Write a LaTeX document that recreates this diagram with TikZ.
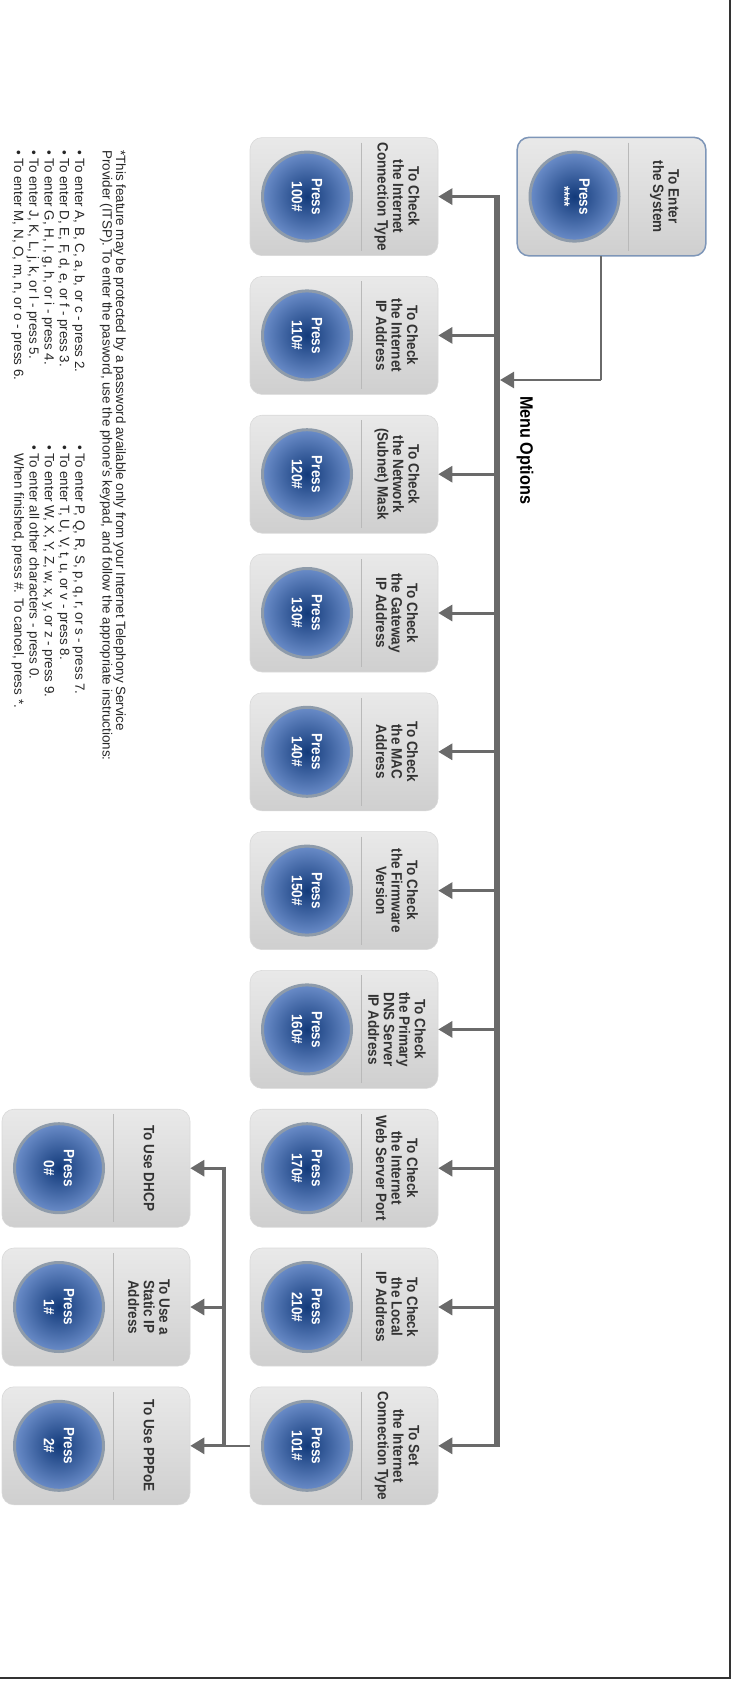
\documentclass[tikz,border=0pt]{standalone}
\usepackage{fontspec}
\setmainfont{Liberation Sans}
\newfontfamily\narrowfont[FakeStretch=0.9]{Liberation Sans}
\usetikzlibrary{arrows.meta}
\definecolor{linegray}{HTML}{6A6A6A}
\definecolor{boxlight}{HTML}{E9E9E9}
\definecolor{boxdark}{HTML}{CFCFCF}
\definecolor{btninner}{HTML}{123A7A}
\definecolor{btnouter}{HTML}{6A8CC8}
\definecolor{btnring}{HTML}{8E9BAA}
\definecolor{labelgray}{HTML}{333333}
\definecolor{enteredge}{HTML}{7E96B8}
% one option box: name, centre, label, key
\def\menubox[#1](#2,#3)#4#5{%
  \node[optbox] (#1) at (#2,#3) {};
  \draw[divline] ({#2-54},{#3+17}) -- ({#2+54},{#3+17});
  \node[pressbtn] (#1b) at (#2,{#3-37}) {Press\\#5};
  \node[optlabel] (#1t) at (#2,{#3+53}) {#4};
}

\begin{document}
\begin{tikzpicture}[x=1pt,y=1pt,rotate=-90,transform shape,
  optbox/.style={rounded corners=12pt,minimum width=118pt,minimum height=188pt,inner sep=0pt,
    top color=boxlight,bottom color=boxdark,draw=gray!30,line width=0.6pt},
  divline/.style={draw=gray!55,line width=1pt},
  pressbtn/.style={circle,minimum size=89pt,inner sep=0pt,draw=btnring,line width=3pt,
    inner color=btninner,outer color=btnouter,text=white,align=center,
    font=\narrowfont\bfseries\fontsize{15}{20}\selectfont},
  optlabel/.style={text=labelgray,align=center,inner sep=0pt,
    font=\narrowfont\bfseries\fontsize{15}{15.5}\selectfont},
  trunk/.style={draw=linegray,line width=6pt},
  subtrunk/.style={draw=linegray,line width=4.5pt},
  feed/.style={draw=linegray,line width=2.5pt},
  branch/.style={draw=linegray,line width=3pt,-{Triangle[length=14pt,width=16pt]}},
  feedarrow/.style={draw=linegray,line width=2.5pt,-{Triangle[length=14pt,width=16pt]}},
  menuhead/.style={font=\narrowfont\bfseries\fontsize{18}{20}\selectfont,inner sep=0pt},
  notetext/.style={align=left,inner sep=0pt,text=black!85,font=\fontsize{13.4}{13.5}\selectfont},
  keylist/.style={align=left,inner sep=0pt,text=black!85,font=\fontsize{13.4}{15.25}\selectfont},
  framerule/.style={draw=black!80,line width=2.5pt}]

  %%%%% START %%%%%
  \useasboundingbox (0,0) rectangle (1686,732);
  \draw[framerule] (0,730) -- (1678,730) -- (1678,0);

  % entry box
  \menubox[enter](196.6,611.5){To Enter\\the System}{****}
  \draw[enteredge,line width=1.5pt,rounded corners=12pt] (enter.south west) rectangle (enter.north east);

  % main column
  \menubox[chk100](196.6,344){To Check\\the Internet\\Connection Type}{100\#}
  \menubox[chk110](335.4,344){To Check\\the Internet\\IP Address}{110\#}
  \menubox[chk120](474.2,344){To Check\\the Network\\(Subnet) Mask}{120\#}
  \menubox[chk130](613.0,344){To Check\\the Gateway\\IP Address}{130\#}
  \menubox[chk140](751.8,344){To Check\\the MAC\\Address}{140\#}
  \menubox[chk150](890.6,344){To Check\\the Firmware\\Version}{150\#}
  \menubox[chk160](1029.4,344){To Check\\the Primary\\DNS Server\\IP Address}{160\#}
  \menubox[chk170](1168.2,344){To Check\\the Internet\\Web Server Port}{170\#}
  \menubox[chk210](1307.0,344){To Check\\the Local\\IP Address}{210\#}
  \menubox[set101](1445.8,344){To Set\\the Internet\\Connection Type}{101\#}

  % connection types
  \menubox[dhcp](1168.2,96){To Use DHCP}{0\#}
  \menubox[static](1307.0,96){To Use a\\Static IP\\Address}{1\#}
  \menubox[pppoe](1445.8,96){To Use PPPoE}{2\#}

  \node[menuhead,anchor=west] (menuopts) at (396,525) {Menu Options};

  % connectors
  \path (enter.east) ++(0,-10.5) coordinate (entryout);
  \coordinate (entrybend) at (380,601);
  \coordinate (entryin) at (380,500);
  \draw[feed] (entryout) -- (entrybend);
  \draw[feedarrow] (entrybend) -- (entryin);

  \coordinate (trunktop) at (195,497);
  \coordinate (trunkend) at (1447.3,497);
  \draw[trunk] (trunktop) -- (trunkend);
  \draw[branch] (chk100.north |- trunktop) -- (chk100.north);
  \draw[branch] (chk110.north |- trunktop) -- (chk110.north);
  \draw[branch] (chk120.north |- trunktop) -- (chk120.north);
  \draw[branch] (chk130.north |- trunktop) -- (chk130.north);
  \draw[branch] (chk140.north |- trunktop) -- (chk140.north);
  \draw[branch] (chk150.north |- trunktop) -- (chk150.north);
  \draw[branch] (chk160.north |- trunktop) -- (chk160.north);
  \draw[branch] (chk170.north |- trunktop) -- (chk170.north);
  \draw[branch] (chk210.north |- trunktop) -- (chk210.north);
  \draw[branch] (set101.north |- trunktop) -- (set101.north);

  \coordinate (subtop) at (1166.5,224);
  \draw[feed] (set101.south) -- (set101.south |- subtop);
  \draw[subtrunk] (subtop) -- (set101.south |- subtop);
  \draw[branch] (dhcp.north |- subtop) -- (dhcp.north);
  \draw[branch] (static.north |- subtop) -- (static.north);
  \draw[branch] (pppoe.north |- subtop) -- (pppoe.north);

  % password note
  \node[notetext,anchor=north west] (note) at (150,126)
    {*This feature may be protected by a password available only from your Internet Telephony Service\\
     Provider (ITSP). To enter the pasword, use the phone's keypad, and follow the appropriate instructions:};
  \node[keylist,anchor=north west] (keysleft) at (150,85)
    {• To enter A, B, C, a, b, or c - press 2.\\
     • To enter D, E, F, d, e, or f - press 3.\\
     • To enter G, H, I, g, h, or i - press 4.\\
     • To enter J, K, L, j, k, or l - press 5.\\
     • To enter M, N, O, m, n, or o - press 6.};
  \node[keylist,anchor=north west] (keysright) at (445,85)
    {• To enter P, Q, R, S, p, q, r, or s - press 7.\\
     • To enter T, U, V, t, u, or v - press 8.\\
     • To enter W, X, Y, Z, w, x, y, or z - press 9.\\
     • To enter all other characters - press 0.\\
     \phantom{• }When finished, press \#. To cancel, press *.};
  %%%%% END %%%%%
\end{tikzpicture}
\end{document}
